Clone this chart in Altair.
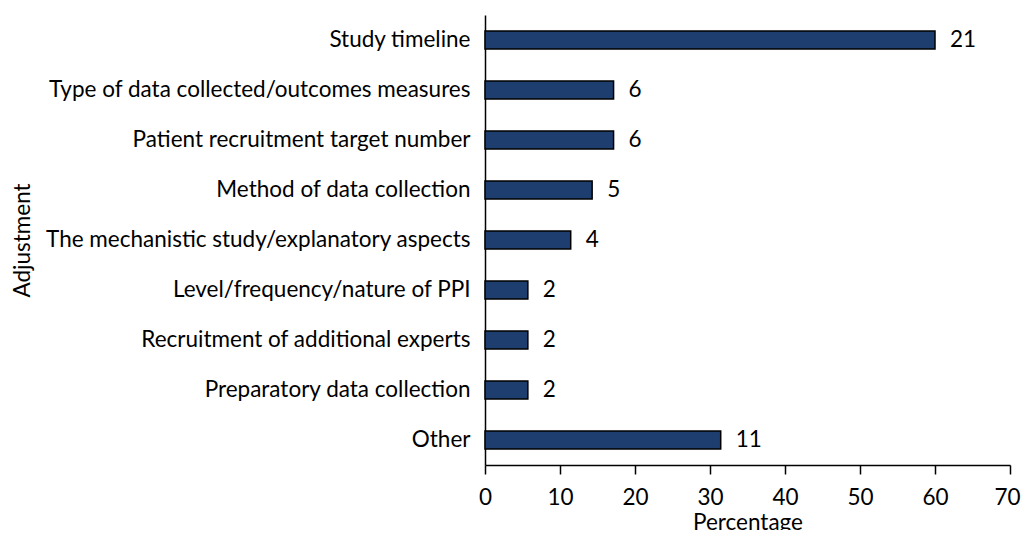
import altair as alt
import pandas as pd

categories = [
    "Study timeline",
    "Type of data collected/outcomes measures",
    "Patient recruitment target number",
    "Method of data collection",
    "The mechanistic study/explanatory aspects",
    "Level/frequency/nature of PPI",
    "Recruitment of additional experts",
    "Preparatory data collection",
    "Other",
]
counts = [21, 6, 6, 5, 4, 2, 2, 2, 11]
total = 35
percentages = [c / total * 100 for c in counts]

df = pd.DataFrame({"Adjustment": categories, "Percentage": percentages, "Count": counts})

FONT = "Lato"
FS = 22.5

y = alt.Y("Adjustment:N", sort=categories, title="Adjustment",
          scale=alt.Scale(paddingInner=0.64, paddingOuter=0.32),
          axis=alt.Axis(ticks=False, labelPadding=15, domainColor="black", domainWidth=1.5,
                        labelFontSize=FS, labelFont=FONT, labelColor="black",
                        titleFontSize=FS, titleFont=FONT, titleFontWeight="normal",
                        titleColor="black", titleX=-463, titleY=225, titleAngle=270,
                        titleAlign="center", titleBaseline="middle", labelLimit=600))
x = alt.X("Percentage:Q", title="Percentage",
          scale=alt.Scale(domain=[0, 70]),
          axis=alt.Axis(values=[0, 10, 20, 30, 40, 50, 60, 70], grid=False,
                        domainColor="black", domainWidth=1.5, tickColor="black",
                        tickWidth=1.5, tickSize=9, labelPadding=12,
                        labelOffset=alt.condition("datum.value == 70", alt.value(-3), alt.value(0)),
                        labelFontSize=FS, labelFont=FONT, labelColor="black",
                        titleFontSize=FS, titleFont=FONT, titleFontWeight="normal",
                        titleColor="black", titlePadding=3, labelFlush=False))

bars = alt.Chart(df).mark_bar(color="#1d3e6f", stroke="black", strokeWidth=1.5).encode(x=x, y=y)
labels = alt.Chart(df).mark_text(align="left", baseline="middle", dx=15, fontSize=FS,
                                 font=FONT, color="black").encode(
    x="Percentage:Q", y=alt.Y("Adjustment:N", sort=categories), text="Count:Q")

chart = (bars + labels).properties(
    width=525, height=450,
    autosize=alt.AutoSizeParams(type="none"),
    padding={"top": 7, "left": 477, "right": 12, "bottom": 65},
).configure_view(stroke=None)

chart.save("out.html", embed_options={"renderer": "svg", "actions": False})
